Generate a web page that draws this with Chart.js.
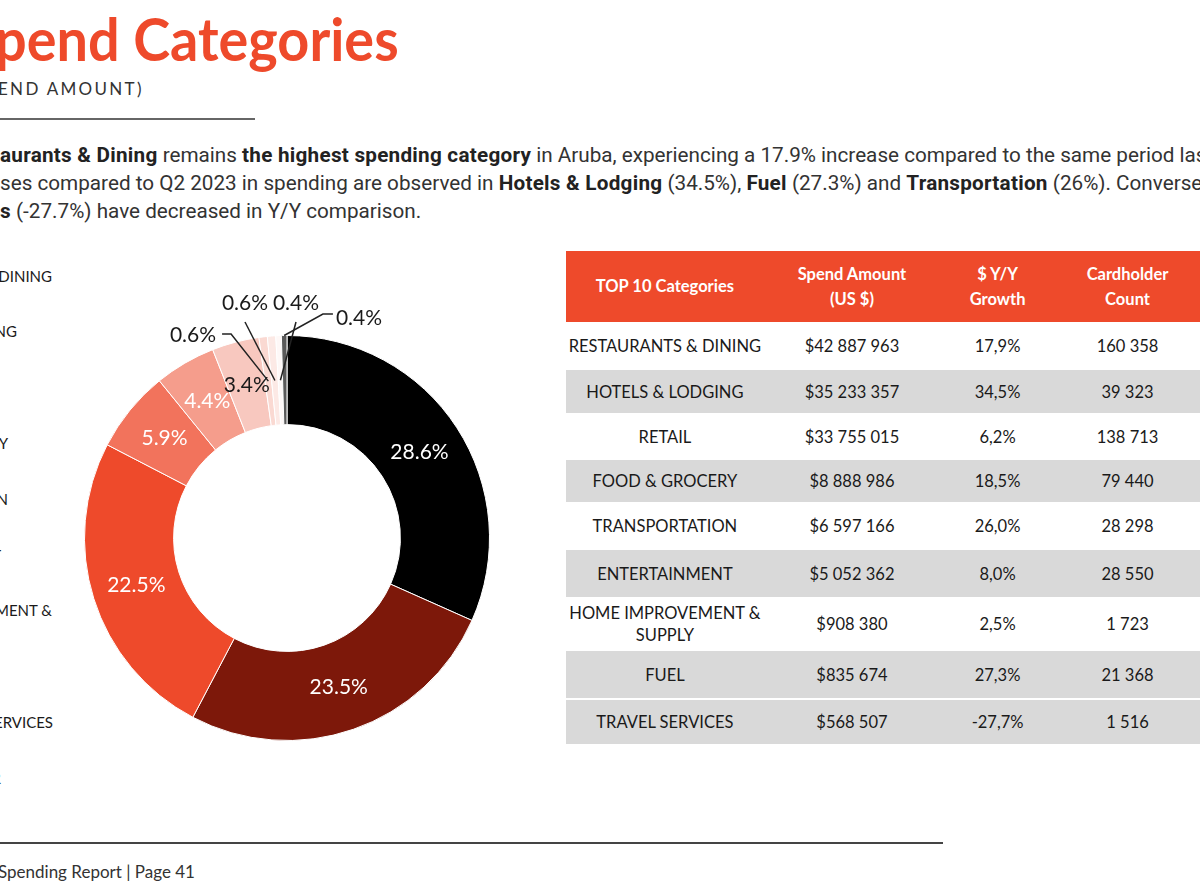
<!DOCTYPE html>
<html>
<head>
<meta charset="utf-8">
<script src="https://cdn.jsdelivr.net/npm/chart.js@4.4.1/dist/chart.umd.min.js"></script>
<style>
  html, body { margin: 0; padding: 0; width: 1200px; height: 892px; overflow: hidden; background: #fff; }
  body { position: relative; font-family: Lato, sans-serif; color: #222; }
  .cut { position: absolute; left: 0; white-space: nowrap; }
  .pre { position: absolute; right: 100%; }
  #title { top: 6px; left: -5px; font-weight: 700; font-size: 60px; line-height: 64px; color: #EE4A2B; transform: scaleX(0.93); transform-origin: left center; }
  #subtitle { top: 79px; left: -2px; font-size: 17px; line-height: 20px; letter-spacing: 2.3px; color: #333; }
  #rule { position: absolute; left: 0; top: 118px; width: 255px; height: 2px; background: #666; }
  .para { font-family: Roboto, sans-serif; font-size: 20.7px; line-height: 28px; color: #333; }
  .para b { color: #222; letter-spacing: 0.25px; }
  #legend div { position: absolute; font-size: 15px; line-height: 19px; white-space: pre; text-align: left; width: max-content; color: #1a1a1a; }
  #chartBox { position: absolute; left: 0; top: 260px; width: 560px; height: 560px; }
  table { position: absolute; left: 566px; top: 251px; border-collapse: collapse; table-layout: fixed; font-size: 16.5px; color: #1a1a1a; }
  th { background: #EE4A2B; color: #fff; font-weight: 700; line-height: 25px; height: 71px; padding: 0; }
  td { text-align: center; border-top: 2px solid #fff; padding: 0; line-height: 22px; white-space: nowrap; }
  tr.g td { background: #D9D9D9; }
  #footRule { position: absolute; left: 0; top: 842px; width: 943px; height: 2px; background: #444; }
  #footer { top: 861px; left: -2px; font-size: 17px; color: #333; }
</style>
</head>
<body>
<div id="title" class="cut"><span class="pre">Top S</span>pend Categories</div>
<div id="subtitle" class="cut"><span class="pre">(BY SP</span>END AMOUNT)</div>
<div id="rule"></div>

<div class="cut para" style="top:141px"><span class="pre"><b>Rest</b></span><b>aurants &amp; Dining</b> remains <b>the highest spending category</b> in Aruba, experiencing a 17.9% increase compared to the same period last year.</div>
<div class="cut para" style="top:169px"><span class="pre">The largest increa</span>ses compared to Q2 2023 in spending are observed in <b>Hotels &amp; Lodging</b> (34.5%), <b>Fuel</b> (27.3%) and <b>Transportation</b> (26%). Conversely,</div>
<div class="cut para" style="top:197px"><span class="pre"><b>Travel Service</b></span><b>s</b> (-27.7%) have decreased in Y/Y comparison.</div>

<div id="legend"></div>
<div id="chartBox"><canvas id="donutChart"></canvas></div>
<table id="topTable"></table>

<div id="footRule"></div>
<div id="footer" class="cut"><span class="pre">Aruba Q2 2024 </span>Spending Report | Page 41</div>

<script>
// Data Block
const categories = [
  "RESTAURANTS & DINING", "HOTELS & LODGING", "RETAIL", "FOOD & GROCERY",
  "TRANSPORTATION", "ENTERTAINMENT", "HOME IMPROVEMENT & SUPPLY", "FUEL",
  "TRAVEL SERVICES", "OTHER"
];
const sharePct = [28.6, 23.5, 22.5, 5.9, 4.4, 3.4, 0.6, 0.6, 0.4, 0.4];
const spendAmount = ["$42 887 963", "$35 233 357", "$33 755 015", "$8 888 986", "$6 597 166", "$5 052 362", "$908 380", "$835 674", "$568 507"];
const yoyGrowth = ["17,9%", "34,5%", "6,2%", "18,5%", "26,0%", "8,0%", "2,5%", "27,3%", "-27,7%"];
const cardholders = ["160 358", "39 323", "138 713", "79 440", "28 298", "28 550", "1 723", "21 368", "1 516"];
const tableHeaders = ["TOP 10 Categories", "Spend Amount<br>(US $)", "$ Y/Y<br>Growth", "Cardholder<br>Count"];

// Style Block
const sliceColors = ["#000000", "#7D180A", "#EE4A2B", "#F2735C", "#F59D8C", "#F8C8BF", "#FAD9D2", "#FCE9E5", "#FEF8F7", "#5A5A5A"];
const labelColors = ["#fff", "#fff", "#fff", "#fff", "#fff", "#1a1a1a"];
// small slices get a callout label placed relative to the donut centre
const callouts = {
  6: { dx: -94, dy: -203, side: "right" },
  7: { dx: -42, dy: -235, side: "below" },
  8: { dx: 9, dy: -235, side: "below" },
  9: { dx: 72, dy: -220, side: "left" }
};

// Legend (cropped on the left edge of the page)
const legendEnds = [52, 17, -20, 8, 8, 1, 52, -20, 53, 1];
const legendBox = document.getElementById("legend");
categories.forEach((c, i) => {
  const d = document.createElement("div");
  d.textContent = c.length > 20 ? c.replace("& ", "&\n") : c;
  d.style.right = (1200 - legendEnds[i]) + "px";
  d.style.top = (276 + 55.8 * i - 9.5) + "px";
  legendBox.appendChild(d);
});

// Table
const rowHeights = [46, 45, 45, 44, 46, 49, 52, 49, 45];
const rowShade = [false, true, false, true, false, true, false, true, true];
const colWidths = [198, 179, 117, 147];
let html = "<colgroup>" + colWidths.map(w => '<col style="width:' + w + 'px">').join("") + "</colgroup>";
html += "<tr>" + tableHeaders.map(h => "<th>" + h + "</th>").join("") + "</tr>";
for (let i = 0; i < spendAmount.length; i++) {
  const name = categories[i].replace(/&/g, "&amp;").replace("&amp; SUPPLY", "&amp;<br>SUPPLY");
  html += '<tr class="' + (rowShade[i] ? "g" : "") + '" style="height:' + rowHeights[i] + 'px">' +
    "<td>" + name + "</td><td>" + spendAmount[i] + "</td><td>" + yoyGrowth[i] + "</td><td>" + cardholders[i] + "</td></tr>";
}
document.getElementById("topTable").innerHTML = html;

// Label plugin
const sliceLabels = {
  id: "sliceLabels",
  afterDatasetsDraw(chart) {
    const ctx = chart.ctx;
    const meta = chart.getDatasetMeta(0);
    const values = chart.data.datasets[0].data;
    ctx.save();
    ctx.font = "21px Lato";
    ctx.textAlign = "center";
    ctx.textBaseline = "middle";
    meta.data.forEach((arc, i) => {
      const text = values[i].toFixed(1) + "%";
      const c = callouts[i];
      if (!c) {
        const p = arc.tooltipPosition();
        ctx.fillStyle = labelColors[i];
        ctx.fillText(text, p.x, p.y);
        return;
      }
      const lx = arc.x + c.dx, ly = arc.y + c.dy;
      const w = ctx.measureText(text).width;
      ctx.fillStyle = "#1a1a1a";
      ctx.fillText(text, lx, ly);
      const mid = (arc.startAngle + arc.endAngle) / 2;
      const r = c.side === "left" ? arc.outerRadius : (arc.innerRadius + arc.outerRadius) / 2;
      const tx = arc.x + Math.cos(mid) * r, ty = arc.y + Math.sin(mid) * r;
      ctx.strokeStyle = "#222";
      ctx.lineWidth = 1.5;
      ctx.beginPath();
      if (c.side === "right") {
        ctx.moveTo(lx + w / 2 + 6, ly - 1);
        ctx.lineTo(lx + w / 2 + 15, ly - 1);
      } else if (c.side === "left") {
        ctx.moveTo(lx - w / 2 - 3, ly - 4);
        ctx.lineTo(lx - w / 2 - 13, ly - 4);
      } else {
        ctx.moveTo(lx, ly + 19);
      }
      ctx.lineTo(tx, ty);
      ctx.stroke();
    });
    ctx.restore();
  }
};

// Chart
const donutChart = new Chart(document.getElementById("donutChart"), {
  type: "doughnut",
  data: {
    labels: categories,
    datasets: [{
      data: sharePct,
      backgroundColor: sliceColors,
      borderColor: "#fff",
      borderWidth: 1
    }]
  },
  options: {
    responsive: true,
    maintainAspectRatio: false,
    animation: false,
    cutout: "56%",
    layout: { padding: { left: 84, right: 70, top: 75, bottom: 79 } },
    plugins: { legend: { display: false }, tooltip: { enabled: false } }
  },
  plugins: [sliceLabels]
});
</script>
</body>
</html>
